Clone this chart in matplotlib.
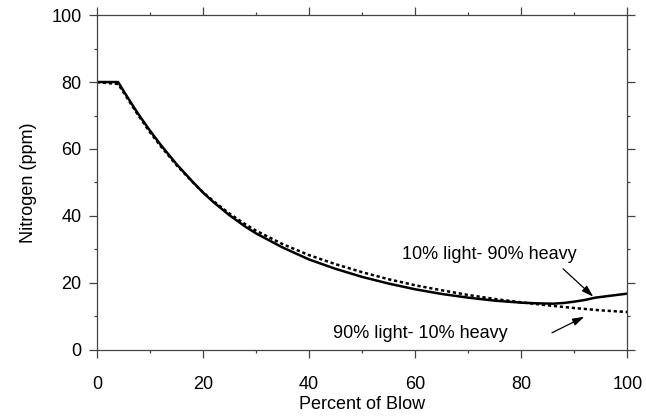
import matplotlib
matplotlib.use('Agg')
import matplotlib.pyplot as plt
from matplotlib.ticker import MultipleLocator

# Percent of blow vs nitrogen (ppm)
blow_heavy = [0, 4, 5, 6, 7, 8, 10, 12, 15, 18, 20, 22, 25, 28, 30, 35, 40, 45, 50,
              55, 60, 65, 70, 75, 80, 83, 86, 88, 90, 92, 94, 96, 98, 100]
n_heavy = [80, 80, 77.4, 74.9, 72.4, 70.0, 65.5, 61.3, 55.5, 50.3, 47.0, 44.1, 40.2,
           36.8, 34.8, 30.6, 27.0, 24.2, 21.8, 19.8, 18.1, 16.7, 15.6, 14.7, 14.1,
           13.9, 13.8, 14.0, 14.4, 14.9, 15.6, 16.0, 16.4, 16.8]

blow_light = [0, 4, 5, 6, 7, 8, 10, 12, 15, 18, 20, 22, 25, 28, 30, 35, 40, 45, 50,
              55, 60, 65, 70, 75, 80, 85, 90, 95, 100]
n_light = [80, 79.4, 77.0, 74.5, 72.0, 69.6, 65.0, 60.9, 55.2, 50.2, 47.1, 44.4, 40.7,
           37.5, 35.6, 31.6, 28.3, 25.6, 23.2, 21.1, 19.3, 17.8, 16.4, 15.2, 14.2,
           13.3, 12.5, 11.8, 11.3]

plt.rcParams['font.family'] = ['Liberation Sans', 'DejaVu Sans']

fig = plt.figure(figsize=(6.46, 4.19), dpi=100)
ax = fig.add_axes([0.150, 0.165, 0.821, 0.799])

ax.plot(blow_heavy, n_heavy, color='black', lw=1.8)
ax.plot(blow_light, n_light, color='black', lw=1.8, linestyle=(0, (1.3, 1.1)))

arrow = dict(arrowstyle='-|>,head_length=0.7,head_width=0.22', color='black',
             lw=0.9, shrinkA=0, shrinkB=0)
ax.text(90.5, 28.4, '10% light- 90% heavy', fontsize=13, ha='right', va='center')
ax.annotate('', xy=(93.6, 15.9), xytext=(87.9, 24.2), arrowprops=arrow)
ax.text(77.5, 5.0, '90% light- 10% heavy', fontsize=13, ha='right', va='center')
ax.annotate('', xy=(91.9, 9.9), xytext=(85.8, 5.1), arrowprops=arrow)

ax.set_xlim(0, 100)
ax.set_ylim(0, 100)
ax.xaxis.set_major_locator(MultipleLocator(20))
ax.xaxis.set_minor_locator(MultipleLocator(10))
ax.yaxis.set_major_locator(MultipleLocator(20))
ax.yaxis.set_minor_locator(MultipleLocator(10))
ax.tick_params(which='both', direction='out', top=True, right=True,
               labeltop=False, labelright=False, labelsize=13,
               width=0.9, color='#444444')
ax.tick_params(which='major', length=6)
ax.tick_params(which='minor', length=2.5)
ax.tick_params(axis='x', which='major', pad=13)
ax.tick_params(axis='y', which='major', pad=5)
for s in ax.spines.values():
    s.set_linewidth(0.9)
    s.set_color('#444444')

ax.set_xlabel('Percent of Blow', fontsize=13, labelpad=2)
ax.set_ylabel('Nitrogen (ppm)', fontsize=13, labelpad=10)

fig.savefig('out.png', dpi=100)
